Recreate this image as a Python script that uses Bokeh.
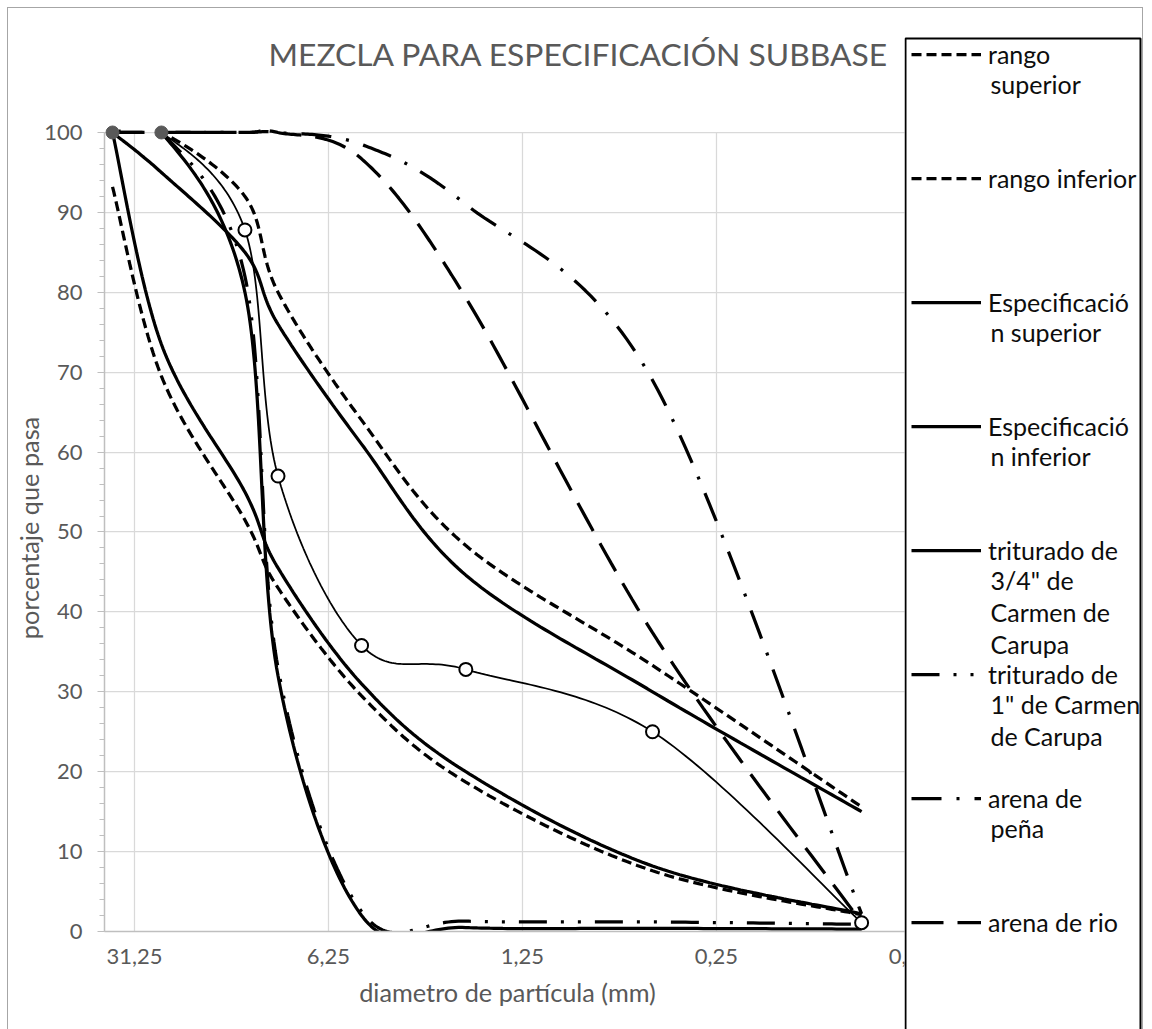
import numpy as np
from bokeh.plotting import figure
from bokeh.layouts import row
from bokeh.models import (Range1d, FixedTicker, CustomJSTickFormatter, Legend,
                          LegendItem, Label, BoxAnnotation, Title)
from bokeh.embed import file_html
from bokeh.resources import INLINE

# ---------------- data ----------------
tamiz_mm = [37.5, 25.0, 12.5, 9.5, 4.75, 2.0, 0.425, 0.075]

rango_superior = [100, 100, 92, 80, 64, 48.3, 33.3, 15.6]
rango_inferior = [93.2, 69.5, 51.5, 43, 29.5, 18.7, 7.6, 2.1]
esp_superior = [100, 95, 85, 76, 61, 44.6, 30, 15]
esp_inferior = [100, 73.5, 55, 45.5, 31, 20, 8.2, 2.2]
triturado_34 = [100, 100, 80, 32, 2, 0.5, 0.4, 0.3]
triturado_1 = [100, 100, 82, 33, 2.5, 1.3, 1.2, 0.9]
arena_pena = [100, 100, 100, 100, 98.5, 91, 69, 2.2]
arena_rio = [100, 100, 100, 100, 96.7, 79.3, 37.4, 1.1]
mezcla = [100, 100, 87.8, 57, 35.8, 32.8, 25, 1.1]

x_ticks = [31.25, 6.25, 1.25, 0.25, 0.05]
y_ticks = list(range(0, 101, 10))
y_minor = list(range(0, 101, 2))

legend_lines = [
    ["rango", "superior"],
    ["rango inferior"],
    ["Especificació", "n superior"],
    ["Especificació", "n inferior"],
    ["triturado de", "3/4\" de", "Carmen de", "Carupa"],
    ["triturado de", "1\" de Carmen", "de Carupa"],
    ["arena de", "peña"],
    ["arena de rio"],
]

TITLE = "MEZCLA PARA ESPECIFICACIÓN SUBBASE"
X_TITLE = "diametro de partícula (mm)"
Y_TITLE = "porcentaje que pasa"

FONT = "Lato"
GREY = "#595959"
Y_MAX = 100.0


def smooth(xs, ys, n=40):
    """Excel-like smoothed line (Bezier with 1/6 Catmull-Rom handles) in log-x
    space; parts above the axis maximum are hidden like the plot area does."""
    u = np.log10(np.asarray(xs, float))
    y = np.asarray(ys, float)
    pts = np.column_stack([u, y])
    N = len(pts)
    out = [pts[0]]
    t = np.linspace(0, 1, n)[1:, None]
    for i in range(N - 1):
        p0 = pts[i - 1] if i > 0 else pts[i]
        p1, p2 = pts[i], pts[i + 1]
        p3 = pts[i + 2] if i + 2 < N else pts[i + 1]
        c1 = p1 + (p2 - p0) / 6.0
        c2 = p2 - (p3 - p1) / 6.0
        b = ((1 - t) ** 3) * p1 + 3 * ((1 - t) ** 2) * t * c1 + 3 * (1 - t) * t ** 2 * c2 + t ** 3 * p2
        out.extend(b)
    out = np.array(out)
    sx = 10 ** out[:, 0]
    sy = out[:, 1].copy()
    sy[sy > Y_MAX + 0.2] = np.nan
    return sx, sy


# ---------------- page geometry ----------------
PAGE_OFF = 8            # chart area border at 7px, content starts at 8px
PAGE_H = 1029
FRAME_L, FRAME_R, FRAME_T, FRAME_B = 104, 910, 124, 931
A_RIGHT = 935           # canvas of the plot extends a bit under the legend
A_W = A_RIGHT - PAGE_OFF
A_H = PAGE_H - PAGE_OFF

p = figure(width=A_W, height=A_H, x_axis_type="log",
           x_range=Range1d(40.08, 0.04999), y_range=Range1d(0, 101),
           output_backend="svg", toolbar_location=None,
           min_border_left=FRAME_L - PAGE_OFF, min_border_right=A_RIGHT - FRAME_R,
           min_border_top=FRAME_T - PAGE_OFF, min_border_bottom=PAGE_H - FRAME_B)
p.frame_align = False
p.outline_line_color = None
p.background_fill_color = "white"
p.border_fill_color = "white"

# spacer between the frame and the title, then the title itself (outermost)
p.add_layout(Title(text=" ", text_font_size="2px", standoff=48, vertical_align="bottom"), "above")
p.title.text = TITLE
p.title.text_font = FONT
p.title.text_font_size = "31.8px"
p.title.text_font_style = "normal"
p.title.text_color = GREY
p.title.align = "left"
p.title.offset = 164
p.title.vertical_align = "bottom"
p.title.standoff = 0

# axes
p.xaxis.ticker = FixedTicker(ticks=x_ticks, minor_ticks=[])
p.xaxis.formatter = CustomJSTickFormatter(code="return tick.toString().replace('.', ',');")
p.xaxis.major_tick_out = 0
p.xaxis.major_tick_in = 0
p.xaxis.minor_tick_out = 0
p.xaxis.minor_tick_in = 0
p.xaxis.axis_line_color = "#bfbfbf"
p.xaxis.axis_line_width = 1.5
p.xaxis.major_label_text_font = FONT
p.xaxis.major_label_text_font_size = "22px"
p.xaxis.major_label_text_color = GREY
p.xaxis.major_label_standoff = 17
p.xaxis.axis_label = X_TITLE
p.xaxis.axis_label_text_font = FONT
p.xaxis.axis_label_text_font_size = "25.3px"
p.xaxis.axis_label_text_font_style = "normal"
p.xaxis.axis_label_text_color = GREY
p.xaxis.axis_label_standoff = 10

p.yaxis.ticker = FixedTicker(ticks=y_ticks, minor_ticks=y_minor)
p.yaxis.bounds = (0, 100)
p.yaxis.axis_line_color = "#bfbfbf"
p.yaxis.axis_line_width = 1.5
p.yaxis.major_tick_line_color = "#bfbfbf"
p.yaxis.minor_tick_line_color = "#bfbfbf"
p.yaxis.major_tick_out = 7
p.yaxis.major_tick_in = 0
p.yaxis.minor_tick_out = 5
p.yaxis.minor_tick_in = 0
p.yaxis.major_label_text_font = FONT
p.yaxis.major_label_text_font_size = "22px"
p.yaxis.major_label_text_color = GREY
p.yaxis.major_label_standoff = 15
p.yaxis.axis_label = Y_TITLE
p.yaxis.axis_label_text_font = FONT
p.yaxis.axis_label_text_font_size = "25.3px"
p.yaxis.axis_label_text_font_style = "normal"
p.yaxis.axis_label_text_color = GREY
p.yaxis.axis_label_standoff = -3

p.xgrid.visible = False
p.ygrid.grid_line_color = "#d9d9d9"
p.ygrid.grid_line_width = 1.25

# vertical grid lines at the x ticks, spanning the 0..100 plot area
p.segment(x0=x_ticks, y0=[y_ticks[0]] * len(x_ticks), x1=x_ticks, y1=[y_ticks[-1]] * len(x_ticks),
          line_color="#d9d9d9", line_width=1.25)

# ---------------- series ----------------
series = [
    (rango_superior, dict(line_width=3.25, line_dash="10 5")),
    (rango_inferior, dict(line_width=3.25, line_dash="10 5")),
    (esp_superior, dict(line_width=3.25)),
    (esp_inferior, dict(line_width=3.25)),
    (triturado_34, dict(line_width=3.25)),
    (triturado_1, dict(line_width=3.25, line_dash="28 14 3 14 3 14")),
    (arena_pena, dict(line_width=3.25, line_dash="30 15 3 15")),
    (arena_rio, dict(line_width=3.25, line_dash="32 14")),
]

for vals, style in series:
    sx, sy = smooth(tamiz_mm, vals)
    p.line(sx, sy, line_color="black", **style)

# mezcla: thin line with markers
mx, my = smooth(tamiz_mm, mezcla)
p.line(mx, my, line_color="black", line_width=1.75)
n_grey = 2
p.scatter(tamiz_mm[:n_grey], mezcla[:n_grey], size=13, marker="circle",
          fill_color=GREY, line_color=GREY, line_width=1)
p.scatter(tamiz_mm[n_grey:], mezcla[n_grey:], size=13, marker="circle",
          fill_color="white", line_color="black", line_width=2)

# ---------------- legend panel (separate canvas on the right) ----------------
LEG_LEFT_PAGE = 904
B_W = 1142 - LEG_LEFT_PAGE
B_H = A_H
# the legend canvas views a range where no data lies; its renderers only feed the keys
q = figure(width=B_W, height=B_H, x_range=Range1d(-3, -2), y_range=Range1d(-3, -2),
           output_backend="svg", toolbar_location=None,
           x_axis_location=None, y_axis_location=None,
           min_border_left=0, min_border_right=0, min_border_top=0, min_border_bottom=0)
q.frame_align = False
q.outline_line_color = None
q.background_fill_color = "white"
q.border_fill_color = "white"
q.grid.visible = False


def bx(page_x):
    return page_x - LEG_LEFT_PAGE


def by_canvas(page_y):
    return page_y - PAGE_OFF


def by_screen(page_y):
    return B_H - (page_y - PAGE_OFF)


q.add_layout(BoxAnnotation(left=bx(905), right=bx(1140), top=by_canvas(38), bottom=by_canvas(1200),
                           left_units="canvas", right_units="canvas",
                           top_units="canvas", bottom_units="canvas",
                           fill_color="white", fill_alpha=1.0,
                           line_color="black", line_alpha=1.0, line_width=2))

key_renderers = [q.line(tamiz_mm, vals, line_color="black", **style) for vals, style in series]

ITEM_H = 36
PITCH = 124
PAD = 2
FIRST_CENTER = 51.5
GLYPH_X = 913
leg_h = 2 * PAD + len(legend_lines) * ITEM_H + (len(legend_lines) - 1) * (PITCH - ITEM_H)
leg_top = FIRST_CENTER - ITEM_H / 2 - PAD
legend = Legend(
    items=[LegendItem(label=lines[0], renderers=[r]) for lines, r in zip(legend_lines, key_renderers)],
    location=(bx(GLYPH_X) - PAD, by_screen(leg_top + leg_h)),
    orientation="vertical",
    glyph_width=70, glyph_height=ITEM_H, label_height=ITEM_H,
    label_standoff=7, spacing=PITCH - ITEM_H, padding=PAD, margin=0,
    border_line_color=None, background_fill_alpha=0,
    label_text_font=FONT, label_text_font_size="25px", label_text_color="#0d0d0d",
    label_text_baseline="middle",
)
q.add_layout(legend)

LINE_H = 32
TEXT_X = GLYPH_X + 70 + 7
for k, lines in enumerate(legend_lines):
    cy = FIRST_CENTER + PITCH * k
    for j, txt in enumerate(lines[1:], start=1):
        q.add_layout(Label(x=bx(TEXT_X), y=by_screen(cy + LINE_H * j),
                           x_units="screen", y_units="screen", text=txt,
                           text_font=FONT, text_font_size="25px", text_color="#0d0d0d",
                           text_align="left", text_baseline="middle"))

q.margin = (0, 0, 0, LEG_LEFT_PAGE - A_RIGHT)   # legend canvas overlaps the plot canvas

layout = row(p, q, margin=(PAGE_OFF - 1, 0, 0, PAGE_OFF - 1),
             styles={"border-top": "1px solid #a6a6a6", "border-left": "1px solid #a6a6a6",
                     "border-right": "1px solid #a6a6a6"})

open("out.html", "w").write(file_html(layout, INLINE))
